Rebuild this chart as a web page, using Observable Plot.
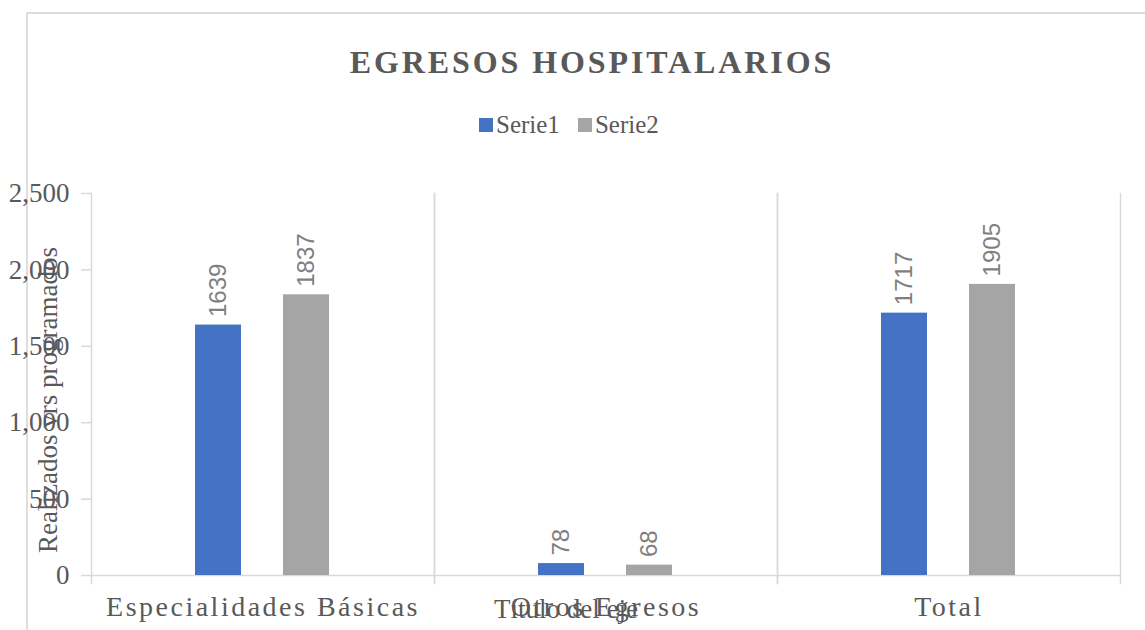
<!DOCTYPE html>
<html>
<head>
<meta charset="utf-8">
<script src="https://cdn.jsdelivr.net/npm/d3@7"></script>
<script src="https://cdn.jsdelivr.net/npm/@observablehq/plot@0.6"></script>
<style>
  html, body { margin: 0; padding: 0; background: #fff; }
  #wrap { position: relative; width: 1145px; height: 630px; overflow: hidden; font-family: "Liberation Serif", serif; color: #595959; }
  #border { position: absolute; left: 26px; top: 12px; width: 1200px; height: 700px; border-left: 2px solid #dedede; border-top: 2px solid #dedede; }
  #title { position: absolute; left: 0; top: 46px; width: 1184px; text-align: center; font-weight: bold; font-size: 32px; line-height: 32px; letter-spacing: 2.9px; color: #595959; font-family: "Liberation Serif", serif; }
  #legend { position: absolute; left: 479px; top: 112px; display: flex; font-size: 25px; line-height: 25px; font-family: "Liberation Serif", serif; color: #595959; }
  #legend .item { display: flex; align-items: center; margin-right: 18px; }
  #legend .sw { width: 14px; height: 14px; margin-right: 3px; }
  #legend .lbl { font-family: "Liberation Serif", serif; }
  #chart { position: absolute; left: 0; top: 160px; }
  #ytitle { position: absolute; left: 48px; top: 400px; transform: translate(-50%, -50%) rotate(-90deg); white-space: nowrap; font-size: 27px; line-height: 27px; font-family: "Liberation Serif", serif; }
  #xtitle { position: absolute; left: 366px; top: 596px; width: 400px; text-align: center; font-size: 27px; line-height: 27px; font-family: "Liberation Serif", serif; }
  #chart g[aria-label="fx-axis tick label"] text { letter-spacing: 2.5px; }
</style>
</head>
<body>
<div id="wrap">
  <div id="border"></div>
  <div id="title">EGRESOS HOSPITALARIOS</div>
  <div id="legend"></div>
  <div id="chart"></div>
  <div id="ytitle">Realizados vrs programados</div>
  <div id="xtitle">Título del eje</div>
</div>
<script>
const categories = ["Especialidades Básicas", "Otros Egresos", "Total"];
const series = ["Serie1", "Serie2"];
const serie1 = [1639, 78, 1717];
const serie2 = [1837, 68, 1905];
const yTicks = [0, 500, 1000, 1500, 2000, 2500];
const colors = ["#4472C4", "#A5A5A5"];

const data = categories.flatMap((c, i) => [
  {cat: c, series: series[0], value: serie1[i]},
  {cat: c, series: series[1], value: serie2[i]}
]);

// legend
const legend = document.getElementById("legend");
series.forEach((s, i) => {
  const item = document.createElement("div");
  item.className = "item";
  const sw = document.createElement("span");
  sw.className = "sw";
  sw.style.background = colors[i];
  const t = document.createElement("span");
  t.className = "lbl";
  t.textContent = s;
  item.appendChild(sw);
  item.appendChild(t);
  legend.appendChild(item);
});

const grid = "#d9d9d9";
const chart = Plot.plot({
  width: 1145,
  height: 470,
  marginTop: 33,
  marginBottom: 55,
  marginLeft: 90,
  marginRight: 25,
  fx: {domain: categories, padding: 0},
  x: {domain: series, paddingInner: 0.472, paddingOuter: 1.163, axis: null},
  y: {domain: [0, 2500]},
  color: {domain: series, range: colors},
  marks: [
    Plot.frame({anchor: "left", stroke: grid, strokeWidth: 1.5, insetBottom: -8}),
    Plot.frame({anchor: "right", stroke: grid, strokeWidth: 1.5, insetBottom: -8}),
    Plot.ruleY([0], {stroke: grid, strokeWidth: 1.5}),
    Plot.barY(data, {fx: "cat", x: "series", y: "value", fill: "series"}),
    Plot.text(data, {
      fx: "cat", x: "series", y: "value",
      text: d => String(d.value),
      rotate: -90, textAnchor: "start", dy: -8,
      fontSize: 24, fontFamily: "Liberation Sans", fill: "#7f7f7f"
    }),
    Plot.axisY({
      ticks: yTicks, tickFormat: d3.format(","), tickSize: 10, tickPadding: 12,
      stroke: grid, strokeWidth: 1.5, fill: "#595959", fontSize: 27, fontFamily: "Liberation Serif", label: null
    }),
    Plot.axisFx({
      anchor: "bottom",
      tickSize: 0, tickPadding: 21, fill: "#595959", fontSize: 28, fontFamily: "Liberation Serif", label: null
    })
  ]
});
document.getElementById("chart").appendChild(chart);
</script>
</body>
</html>
